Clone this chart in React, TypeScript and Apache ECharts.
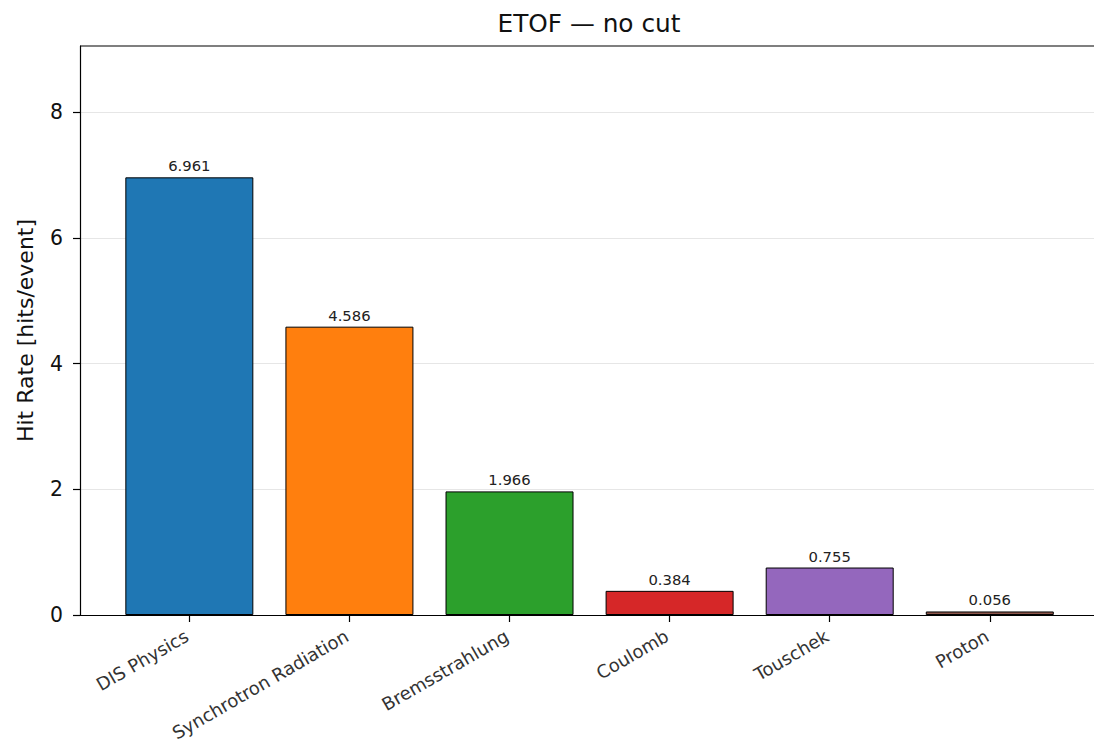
import React, { useEffect, useRef } from "react";
import * as echarts from "echarts";

const categories = ["DIS Physics", "Synchrotron Radiation", "Bremsstrahlung", "Coulomb", "Touschek", "Proton"];
const hitRates = [6.961, 4.586, 1.966, 0.384, 0.755, 0.056];
const barColors = ["#1f77b4", "#ff7f0e", "#2ca02c", "#d62728", "#9467bd", "#8c564b"];
const yTicks = [0, 2, 4, 6, 8];

export default function App() {
  const ref = useRef<HTMLDivElement>(null);
  useEffect(() => {
    document.body.style.margin = "0";
    const chart = echarts.init(ref.current!, null, { renderer: "svg" });
    const font = "DejaVu Sans";
    const idx = categories.map((_, i) => i);
    chart.setOption({
      animation: false,
      textStyle: { fontFamily: font },
      title: {
        text: "ETOF — no cut",
        left: 584,
        textAlign: "center",
        top: 6,
        textStyle: { fontFamily: font, fontSize: 24.8, fontWeight: "normal", color: "#111" },
      },
      grid: {
        left: 80,
        top: 46,
        right: 0,
        height: 569,
        show: false,
        containLabel: false,
        outerBoundsMode: "none",
      },
      graphic: [
        {
          type: "line",
          shape: { x1: 80, y1: 46, x2: 1094, y2: 46 },
          style: { stroke: "#000", lineWidth: 1.2 },
          z: 10,
        },
      ],
      xAxis: {
        type: "value",
        min: -0.683,
        max: 5.651,
        splitLine: { show: false },
        axisLine: { show: true, onZero: false, lineStyle: { color: "#000", width: 1.2 } },
        axisTick: { show: true, customValues: idx, length: 7, lineStyle: { color: "#000", width: 1.2 } },
        axisLabel: {
          customValues: idx,
          rotate: 30,
          fontSize: 18,
          color: "#333",
          margin: 18,
          padding: [0, 3, 0, 0],
          fontFamily: font,
          formatter: (v: number) => categories[Math.round(v)] ?? "",
        },
      },
      yAxis: {
        type: "value",
        min: 0,
        max: 9.05,
        name: "Hit Rate [hits/event]",
        nameLocation: "middle",
        nameGap: 44,
        nameRotate: 90,
        nameTextStyle: { fontSize: 22, color: "#111", fontFamily: font },
        axisLine: { show: true, onZero: false, lineStyle: { color: "#000", width: 1.2 } },
        axisTick: { show: true, customValues: yTicks, length: 7, lineStyle: { color: "#000", width: 1.2 } },
        axisLabel: { customValues: yTicks, fontSize: 20.4, color: "#111", margin: 17, fontFamily: font },
        splitLine: { show: true, lineStyle: { color: "#e6e6e6", width: 1 } },
      },
      series: [
        {
          type: "bar",
          barWidth: 128,
          data: hitRates.map((v, i) => ({
            value: [i, v],
            itemStyle: { color: barColors[i], borderColor: "#000", borderWidth: 1 },
          })),
          label: {
            show: true,
            position: "top",
            distance: 4,
            fontSize: 14.8,
            color: "#222",
            fontFamily: font,
            formatter: (p: any) => Number(p.value[1]).toFixed(3),
          },
        },
      ],
    });
    return () => chart.dispose();
  }, []);
  return <div ref={ref} style={{ position: "absolute", left: 0, top: 0, width: 1094, height: 743 }} />;
}
